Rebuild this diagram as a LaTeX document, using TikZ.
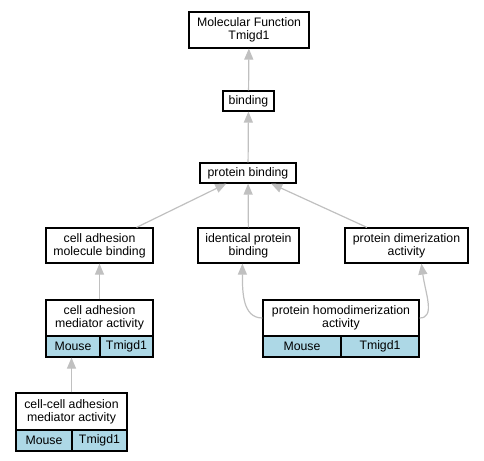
\documentclass[tikz,border=0pt]{standalone}
\usepackage{fontspec}
\setmainfont{Liberation Sans}
\usetikzlibrary{arrows.meta,calc}
\definecolor{edgegray}{HTML}{C0C0C0}
\definecolor{speciesblue}{HTML}{ADD8E6}
\begin{document}
\begin{tikzpicture}[x=1bp, y=-1bp,
    term/.style={draw=black, line width=1.2bp, fill=white, align=center, inner sep=0pt,
                 font=\fontsize{12.3bp}{13bp}\selectfont},
    cell/.style={term, fill=speciesblue, minimum height=21bp},
    isa/.style={draw=edgegray, line width=1.2bp, -{Triangle[length=11bp,width=9bp]}}]
  \useasboundingbox (0,0) rectangle (484,461);
  % terms
  \node[term, minimum width=120bp, minimum height=36bp] (mf) at (249,30) {Molecular Function\\Tmigd1};
  \node[term, minimum width=51bp, minimum height=20bp] (bind) at (248.5,101) {binding};
  \node[term, minimum width=96bp, minimum height=20bp] (pbind) at (248,173) {protein binding};
  \node[term, minimum width=107bp, minimum height=35bp] (camb) at (99.5,245.5) {cell adhesion\\molecule binding};
  \node[term, minimum width=101bp, minimum height=35bp] (ipb) at (248.5,245.5) {identical protein\\binding};
  \node[term, minimum width=123bp, minimum height=35bp] (pda) at (406.5,245.5) {protein dimerization\\activity};
  % annotated terms
  \node[term, minimum width=107bp, minimum height=36bp] (cama) at (99.5,318) {cell adhesion\\mediator activity};
  \node[cell, minimum width=54bp] (cama_m) at (73,346.5) {Mouse};
  \node[cell, minimum width=53bp] (cama_g) at (126.5,346.5) {Tmigd1};
  \node[term, minimum width=156bp, minimum height=36bp] (phda) at (341,318) {protein homodimerization\\activity};
  \node[cell, minimum width=78bp] (phda_m) at (302,346.5) {Mouse};
  \node[cell, minimum width=78bp] (phda_g) at (380,346.5) {Tmigd1};
  \node[term, minimum width=111bp, minimum height=37bp] (ccam) at (71.5,411.5) {cell-cell adhesion\\mediator activity};
  \node[cell, minimum width=56bp] (ccam_m) at (44,440.5) {Mouse};
  \node[cell, minimum width=55bp] (ccam_g) at (99.5,440.5) {Tmigd1};
  % is_a edges
  \draw[isa] (bind) -- (mf);
  \draw[isa] (pbind) -- (bind);
  \draw[isa] (camb) -- (pbind);
  \draw[isa] (ipb) -- (pbind);
  \draw[isa] (pda) -- (pbind);
  \draw[isa] (cama) -- (camb);
  \draw[isa] (ccam.north) -- (ccam.north |- cama_m.south);
  \draw[isa] (phda.west) .. controls +(-20,0) and +(0,28) .. ($(ipb.south west)+(45,0)$);
  \draw[isa] (phda.east) .. controls +(16,0) and +(4,30) .. ($(pda.south west)+(77,0)$);
\end{tikzpicture}
\end{document}
